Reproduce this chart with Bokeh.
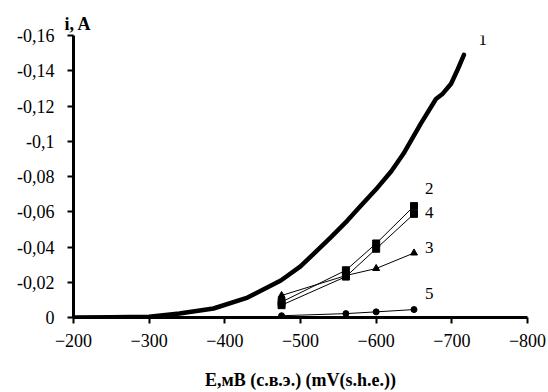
from bokeh.plotting import figure
from bokeh.models import (Range1d, FixedTicker, CustomJSTickFormatter, Title,
                          LinearAxis, BasicTickFormatter)
from bokeh.core.properties import value
from bokeh.embed import file_html
from bokeh.resources import INLINE

# Curve 1 (continuous polarization curve)
E1 = [-200, -250, -300, -340, -385, -430, -474, -500, -517, -540, -562, -580,
      -602, -620, -636, -659, -679, -688, -699, -708, -716]
I1 = [0.0, -0.0001, -0.0004, -0.0023, -0.0051, -0.0113, -0.021, -0.029, -0.036,
      -0.0455, -0.055, -0.0635, -0.0738, -0.083, -0.0929, -0.110, -0.124, -0.127,
      -0.1326, -0.141, -0.149]

# Discrete series
E_pts = [-475, -560, -600, -650]
I2 = [-0.0088, -0.0268, -0.042, -0.0632]
I4 = [-0.0070, -0.0232, -0.039, -0.0588]
I3 = [-0.0125, -0.0238, -0.0278, -0.0366]
I5 = [-0.0010, -0.0022, -0.0032, -0.0045]

x_ticks = [-200, -300, -400, -500, -600, -700, -800]
y_ticks = [0, -0.02, -0.04, -0.06, -0.08, -0.1, -0.12, -0.14, -0.16]

curve_names = ["1", "2", "4", "3", "5"]
name_x = [-741, -670, -670, -670, -670]
name_y = [-0.158, -0.0731, -0.0595, -0.0397, -0.0136]

SERIF = "Liberation Serif"

p = figure(width=548, height=392, output_backend="svg", toolbar_location=None,
           x_range=Range1d(-200, -800), y_range=Range1d(0, -0.16),
           x_axis_location=None, y_axis_location=None,
           min_border_left=73, min_border_right=21, min_border_top=35,
           min_border_bottom=75)
p.outline_line_color = None
p.xgrid.visible = False
p.ygrid.visible = False
p.background_fill_color = "white"

axis_style = dict(axis_line_width=3, axis_line_color="black",
                  major_tick_line_width=2, major_tick_line_color="black",
                  major_tick_in=0, major_tick_out=6,
                  minor_tick_line_color=None,
                  major_label_text_font=SERIF,
                  major_label_text_font_size="18px",
                  major_label_text_color="black")

xaxis = LinearAxis(ticker=FixedTicker(ticks=x_ticks),
                   formatter=BasicTickFormatter(),
                   major_label_standoff=10,
                   axis_label="E,мВ (с.в.э.) (mV(s.h.e.))",
                   axis_label_text_font=SERIF,
                   axis_label_text_font_style="bold",
                   axis_label_text_font_size="18px",
                   axis_label_text_color="black",
                   axis_label_standoff=20,
                   **axis_style)
yaxis = LinearAxis(ticker=FixedTicker(ticks=y_ticks),
                   formatter=CustomJSTickFormatter(
                       code="return parseFloat(tick.toFixed(2)).toString().replace('.', ',');"),
                   major_label_standoff=13,
                   **axis_style)
p.add_layout(xaxis, "below")
p.add_layout(yaxis, "left")

# curve 1
p.line(E1, I1, line_width=4.5, line_color="black", line_cap="round", line_join="round")

# series 2,4 squares; 3 triangles; 5 circles
p.line(E_pts, I2, line_width=1, line_color="black")
p.scatter(E_pts, I2, marker="square", size=7, color="black")
p.line(E_pts, I4, line_width=1, line_color="black")
p.scatter(E_pts, I4, marker="square", size=7, color="black")
p.line(E_pts, I3, line_width=1, line_color="black")
p.scatter(E_pts, I3, marker="triangle", size=7, color="black")
p.line(E_pts, I5, line_width=1, line_color="black")
p.scatter(E_pts, I5, marker="circle", size=6, color="black")

p.text(x=name_x, y=name_y, text=curve_names, text_font=value(SERIF),
       text_font_size="17px", text_align="center", text_baseline="middle",
       text_color="black")

p.add_layout(Title(text="i, A", align="left", offset=-9, standoff=4,
                   text_font=SERIF, text_font_style="bold",
                   text_font_size="18px", text_color="black"), "above")

open("out.html", "w").write(file_html(p, INLINE))
